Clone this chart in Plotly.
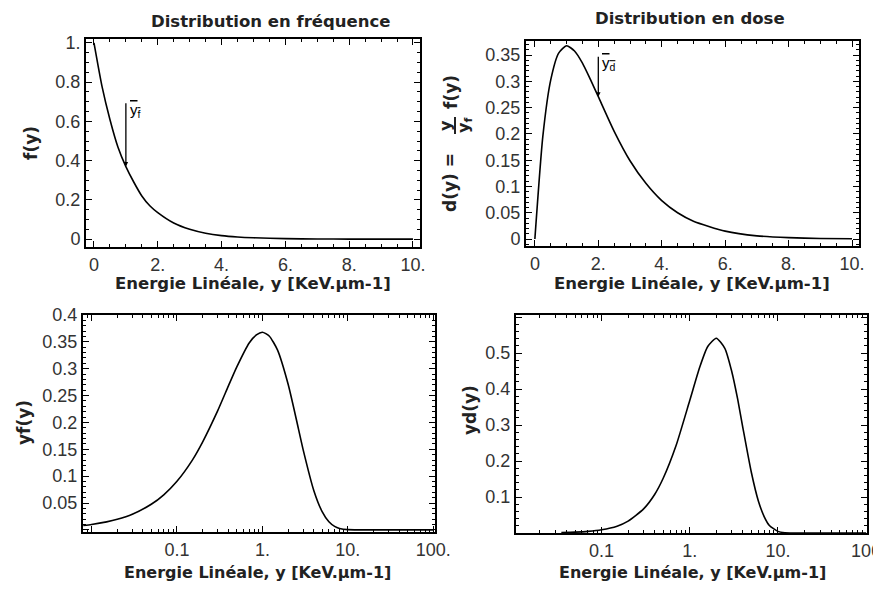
import plotly.graph_objects as go

# ---------------- data ----------------
y_lin = [0, 0.25, 0.5, 0.75, 1, 1.25, 1.5, 1.75, 2, 2.5, 3, 3.5, 4, 4.5, 5, 6, 7, 8, 9, 10]
f_vals = [1.0, 0.78, 0.61, 0.47, 0.37, 0.29, 0.22, 0.17, 0.135, 0.082, 0.05, 0.03,
          0.018, 0.011, 0.007, 0.0025, 0.001, 0.0003, 0.0001, 0.0]
d_vals = [0.0, 0.195, 0.303, 0.354, 0.368, 0.358, 0.335, 0.304, 0.271, 0.205, 0.149, 0.106,
          0.073, 0.05, 0.034, 0.015, 0.006, 0.0027, 0.001, 0.0005]

y_log_f = [0.008, 0.01, 0.015, 0.02, 0.03, 0.05, 0.07, 0.1, 0.15, 0.2, 0.3, 0.4, 0.5, 0.7, 0.85,
           1, 1.2, 1.5, 2, 2.5, 3, 4, 5, 6, 7, 8, 10, 20, 50, 100]
yf_vals = [0.008, 0.0099, 0.0148, 0.0196, 0.0291, 0.0476, 0.0653, 0.0905, 0.129, 0.164, 0.222,
           0.268, 0.303, 0.348, 0.363, 0.368, 0.361, 0.335, 0.271, 0.205, 0.149, 0.073, 0.034,
           0.015, 0.0064, 0.0027, 0.00045, 0.0, 0.0, 0.0]

y_log_d = [0.035, 0.05, 0.07, 0.1, 0.15, 0.2, 0.3, 0.4, 0.5, 0.7, 1, 1.3, 1.6, 2, 2.5, 3, 3.5,
           4, 5, 6, 7, 8, 10, 12, 20, 50, 100]
yd_vals = [0.001, 0.0024, 0.0046, 0.009, 0.019, 0.033, 0.067, 0.107, 0.152, 0.243, 0.368,
           0.461, 0.518, 0.541, 0.513, 0.448, 0.371, 0.293, 0.168, 0.089, 0.045, 0.021, 0.0045,
           0.0009, 0.0, 0.0, 0.0]

mean_f = [1.0, 0.37, 0.7]   # x, curve value, label height
mean_d = [2.0, 0.271, 0.35]

lin_alias = {"2": "2.", "4": "4.", "6": "6.", "8": "8.", "10": "10."}
f_alias = {"1": "1."}
yf_alias = {"0": " "}
yd_alias = {"0": " ", "0.6": " "}
log_alias_l = {"0.01": " ", "1": "1.", "10": "10.", "100": "100."}
log_alias_r = {"0.01": " ", "1": "1.", "10": "10."}

xlabel = "Energie Linéale, y [KeV.µm-1]"

# ---------------- layout helpers ----------------
OFF = 8                      # page body margin of the html page
W, H = 881 - 2 * OFF, 591 - 2 * OFF


def px(a):
    return (a - OFF) / W


def py(a):
    return 1 - (a - OFF) / H


def xd(a, b):
    return [px(a), px(b)]


def yd(top, bottom):
    return [py(bottom), py(top)]


TICKFONT = dict(family="Liberation Sans, Arial", size=18, color="#333333")
LABFONT = dict(family="DejaVu Sans", color="#222222")


def ax(**kw):
    d = dict(showline=True, linecolor="black", linewidth=2, mirror="allticks",
             ticks="inside", ticklen=6, tickwidth=1.3, tickcolor="black",
             showgrid=False, zeroline=False, tickfont=TICKFONT, automargin=False,
             ticklabeloverflow="allow")
    d.update(kw)
    return d


def minor(dt, ln=3):
    return dict(ticks="inside", ticklen=ln, tickcolor="black", tickwidth=1,
                dtick=dt, showgrid=False)


LINE = dict(color="black", width=1.6, shape="spline", smoothing=0.6)

fig = go.Figure()
fig.add_trace(go.Scatter(x=y_lin, y=f_vals, mode="lines", line=LINE, xaxis="x", yaxis="y"))
fig.add_trace(go.Scatter(x=y_lin, y=d_vals, mode="lines", line=LINE, xaxis="x2", yaxis="y2"))
fig.add_trace(go.Scatter(x=y_log_f, y=yf_vals, mode="lines", line=LINE, xaxis="x3", yaxis="y3"))
fig.add_trace(go.Scatter(x=y_log_d, y=yd_vals, mode="lines", line=LINE, xaxis="x4", yaxis="y4"))

fig.update_layout(
    width=W, height=H, autosize=False,
    margin=dict(l=0, r=0, t=0, b=0, autoexpand=False),
    paper_bgcolor="white", plot_bgcolor="white",
    showlegend=False,
    xaxis=ax(domain=xd(86, 420), range=[-0.25, 10.22], tick0=0, dtick=2, labelalias=lin_alias,
             minor=minor(0.5), anchor="y"),
    yaxis=ax(domain=yd(39, 247), range=[-0.04, 1.02], tick0=0, dtick=0.2, labelalias=f_alias,
             minor=minor(0.05), anchor="x"),
    xaxis2=ax(domain=xd(526, 859), range=[-0.28, 10.22], tick0=0, dtick=2, labelalias=lin_alias,
              minor=minor(0.5), anchor="y2"),
    yaxis2=ax(domain=yd(41, 246), range=[-0.0133, 0.377], tick0=0, dtick=0.05,
              minor=minor(0.01), anchor="x2"),
    xaxis3=ax(type="log", domain=xd(83, 435), range=[-2.1, 2.02], dtick=1,
              labelalias=log_alias_l, minor=minor("D1"), anchor="y3"),
    yaxis3=ax(domain=yd(315, 532), range=[-0.004, 0.4], tick0=0, dtick=0.05,
              labelalias=yf_alias, minor=minor(0.01), anchor="x3"),
    xaxis4=ax(type="log", domain=xd(516, 867), range=[-1.97, 2.01], dtick=1,
              labelalias=log_alias_r, minor=minor("D1"), anchor="y4"),
    yaxis4=ax(domain=yd(315, 533), range=[0.0, 0.6056], tick0=0, dtick=0.1,
              labelalias=yd_alias, minor=minor(0.02), anchor="x4"),
)


def pann(text, x, y, size=15, angle=0, xa="center", ya="middle"):
    fig.add_annotation(text=text, x=px(x), y=py(y), xref="paper", yref="paper",
                       showarrow=False, textangle=angle, xanchor=xa, yanchor=ya,
                       font=dict(family=LABFONT["family"], size=size, color=LABFONT["color"]))


# titles
pann("<b>Distribution en fréquence</b>", 270, 21, 16.5)
pann("<b>Distribution en dose</b>", 690, 19, 16.5)
# x labels
pann("<b>" + xlabel + "</b>", 253, 283, 16.5)
pann("<b>" + xlabel + "</b>", 692, 283, 16.5)
pann("<b>" + xlabel + "</b>", 257, 572, 16)
pann("<b>" + xlabel + "</b>", 692, 572, 16)
# y labels
pann("<b>f(y)</b>", 31, 143, 17, -90)
pann("<b>yf(y)</b>", 24, 423, 17, -90)
pann("<b>yd(y)</b>", 470, 410, 17, -90)
# composite d(y) = y / yf f(y)
pann("<b>d(y) =</b>", 450, 182, 17, -90)
pann("<b>y</b>", 446, 126, 16, -90)
pann("<b>y<sub>f</sub></b>", 465, 126, 16, -90)
pann("<b>f(y)</b>", 451, 92, 17, -90)
fig.add_shape(type="line", xref="paper", yref="paper", x0=px(455), x1=px(455),
              y0=py(134), y1=py(117), line=dict(color="#222222", width=2))

# mean markers
fig.add_annotation(x=mean_f[0], y=mean_f[1], ax=mean_f[0], ay=mean_f[2], xref="x", yref="y",
                   axref="x", ayref="y", showarrow=True, arrowhead=2, arrowsize=0.7,
                   arrowwidth=1.3, arrowcolor="black", text="")
fig.add_annotation(x=mean_f[0], y=mean_f[2] + 0.015, xref="x", yref="y", showarrow=False,
                   text='<span style="text-decoration:overline">y<sub>f</sub></span>',
                   xanchor="left", yanchor="top", xshift=2,
                   font=dict(family="Liberation Sans", size=15, color="black"))
fig.add_annotation(x=mean_d[0], y=mean_d[1], ax=mean_d[0], ay=mean_d[2], xref="x2", yref="y2",
                   axref="x2", ayref="y2", showarrow=True, arrowhead=2, arrowsize=0.7,
                   arrowwidth=1.3, arrowcolor="black", text="")
fig.add_annotation(x=mean_d[0], y=mean_d[2] + 0.006, xref="x2", yref="y2", showarrow=False,
                   text='<span style="text-decoration:overline">y<sub>d</sub></span>',
                   xanchor="left", yanchor="top", xshift=2,
                   font=dict(family="Liberation Sans", size=15, color="black"))

fig.write_html("out.html")
